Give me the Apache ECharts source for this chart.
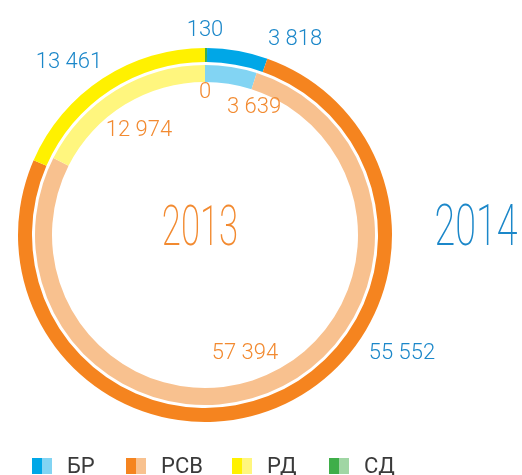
<!DOCTYPE html>
<html>
<head>
<meta charset="utf-8">
<script src="https://cdn.jsdelivr.net/npm/echarts@6/dist/echarts.min.js"></script>
<style>
html,body{margin:0;padding:0;background:#fff;}
#chart{width:522px;height:475px;}
</style>
</head>
<body>
<div id="chart"></div>
<script>
// ---- data ----
const categories = ['БР', 'РСВ', 'РД', 'СД'];
const values2014 = [3818, 55552, 13461, 130];
const values2013 = [3639, 57394, 12974, 0];
const years = ['2013', '2014'];

// ---- styles ----
const darkColors = ['#00a7e7', '#f5841f', '#fff100', '#3fae49'];
const lightColors = ['#82d4f3', '#f8c18f', '#fff67e', '#a0d6a4'];
const blueText = '#1b87c9';
const orangeText = '#f28a30';
const numFont = 'Roboto, sans-serif';

// drawing order around the ring (starting at 12 o'clock, clockwise)
const outerOrder = [3, 0, 1, 2];
const innerOrder = [0, 1, 2, 3];

// label anchor positions per category (layout only)
const outerLabelPos = [[295, 39], [402, 353], [69, 62], [205, 30]];
const innerLabelPos = [[254, 107], [245, 353], [139, 130], [205, 92]];

function fmt(v) { return String(v).replace(/\B(?=(\d{3})+(?!\d))/g, ' '); }

function buildData(values, order, colors) {
  return order.map(i => ({
    name: categories[i],
    value: values[i],
    itemStyle: { color: colors[i] }
  }));
}

const outerData = buildData(values2014, outerOrder, darkColors);
const innerData = buildData(values2013, innerOrder, lightColors);

const chart = echarts.init(document.getElementById('chart'), null, { renderer: 'canvas' });

function labelCfg(color) {
  return {
    show: true,
    position: 'outside',
    formatter: p => fmt(p.value),
    color: color,
    fontFamily: numFont,
    fontWeight: 300,
    fontSize: 22
  };
}

// legend built from categories
const legendX = [32, 126, 232, 329];
const legendGraphics = [];
categories.forEach((c, i) => {
  legendGraphics.push({ type: 'rect', shape: { x: legendX[i], y: 458, width: 10, height: 16 }, style: { fill: darkColors[i] }, silent: true });
  legendGraphics.push({ type: 'rect', shape: { x: legendX[i] + 10, y: 458, width: 10, height: 16 }, style: { fill: lightColors[i] }, silent: true });
  legendGraphics.push({ type: 'text', x: legendX[i] + 35, y: 467, style: { text: c, fill: '#3a3a3a', font: '22px ' + numFont, textAlign: 'left', textVerticalAlign: 'middle' }, silent: true });
});

chart.setOption({
  animation: false,
  series: [
    {
      name: years[1],
      type: 'pie',
      radius: [173, 187],
      center: [205, 235],
      startAngle: 90,
      clockwise: true,
      silent: true,
      avoidLabelOverlap: false,
      label: labelCfg(blueText),
      labelLine: { show: false },
      labelLayout: function (p) {
        const pos = outerLabelPos[outerOrder[p.dataIndex]];
        return { x: pos[0], y: pos[1], align: 'center', verticalAlign: 'middle' };
      },
      emphasis: { disabled: true },
      data: outerData
    },
    {
      name: years[0],
      type: 'pie',
      radius: [153, 170],
      center: [205, 235],
      startAngle: 90,
      clockwise: true,
      silent: true,
      avoidLabelOverlap: false,
      stillShowZeroSum: true,
      label: labelCfg(orangeText),
      labelLine: { show: false },
      labelLayout: function (p) {
        const pos = innerLabelPos[innerOrder[p.dataIndex]];
        return { x: pos[0], y: pos[1], align: 'center', verticalAlign: 'middle' };
      },
      emphasis: { disabled: true },
      data: innerData
    }
  ],
  graphic: [
    { type: 'text', x: 200, y: 231, scaleX: 0.62, style: { text: years[0], fill: orangeText, font: '200 56px Roboto, sans-serif', textAlign: 'center', textVerticalAlign: 'middle' }, silent: true },
    { type: 'text', x: 476, y: 231, scaleX: 0.66, style: { text: years[1], fill: blueText, font: '200 57px Roboto, sans-serif', textAlign: 'center', textVerticalAlign: 'middle' }, silent: true }
  ].concat(legendGraphics)
});
</script>
</body>
</html>
